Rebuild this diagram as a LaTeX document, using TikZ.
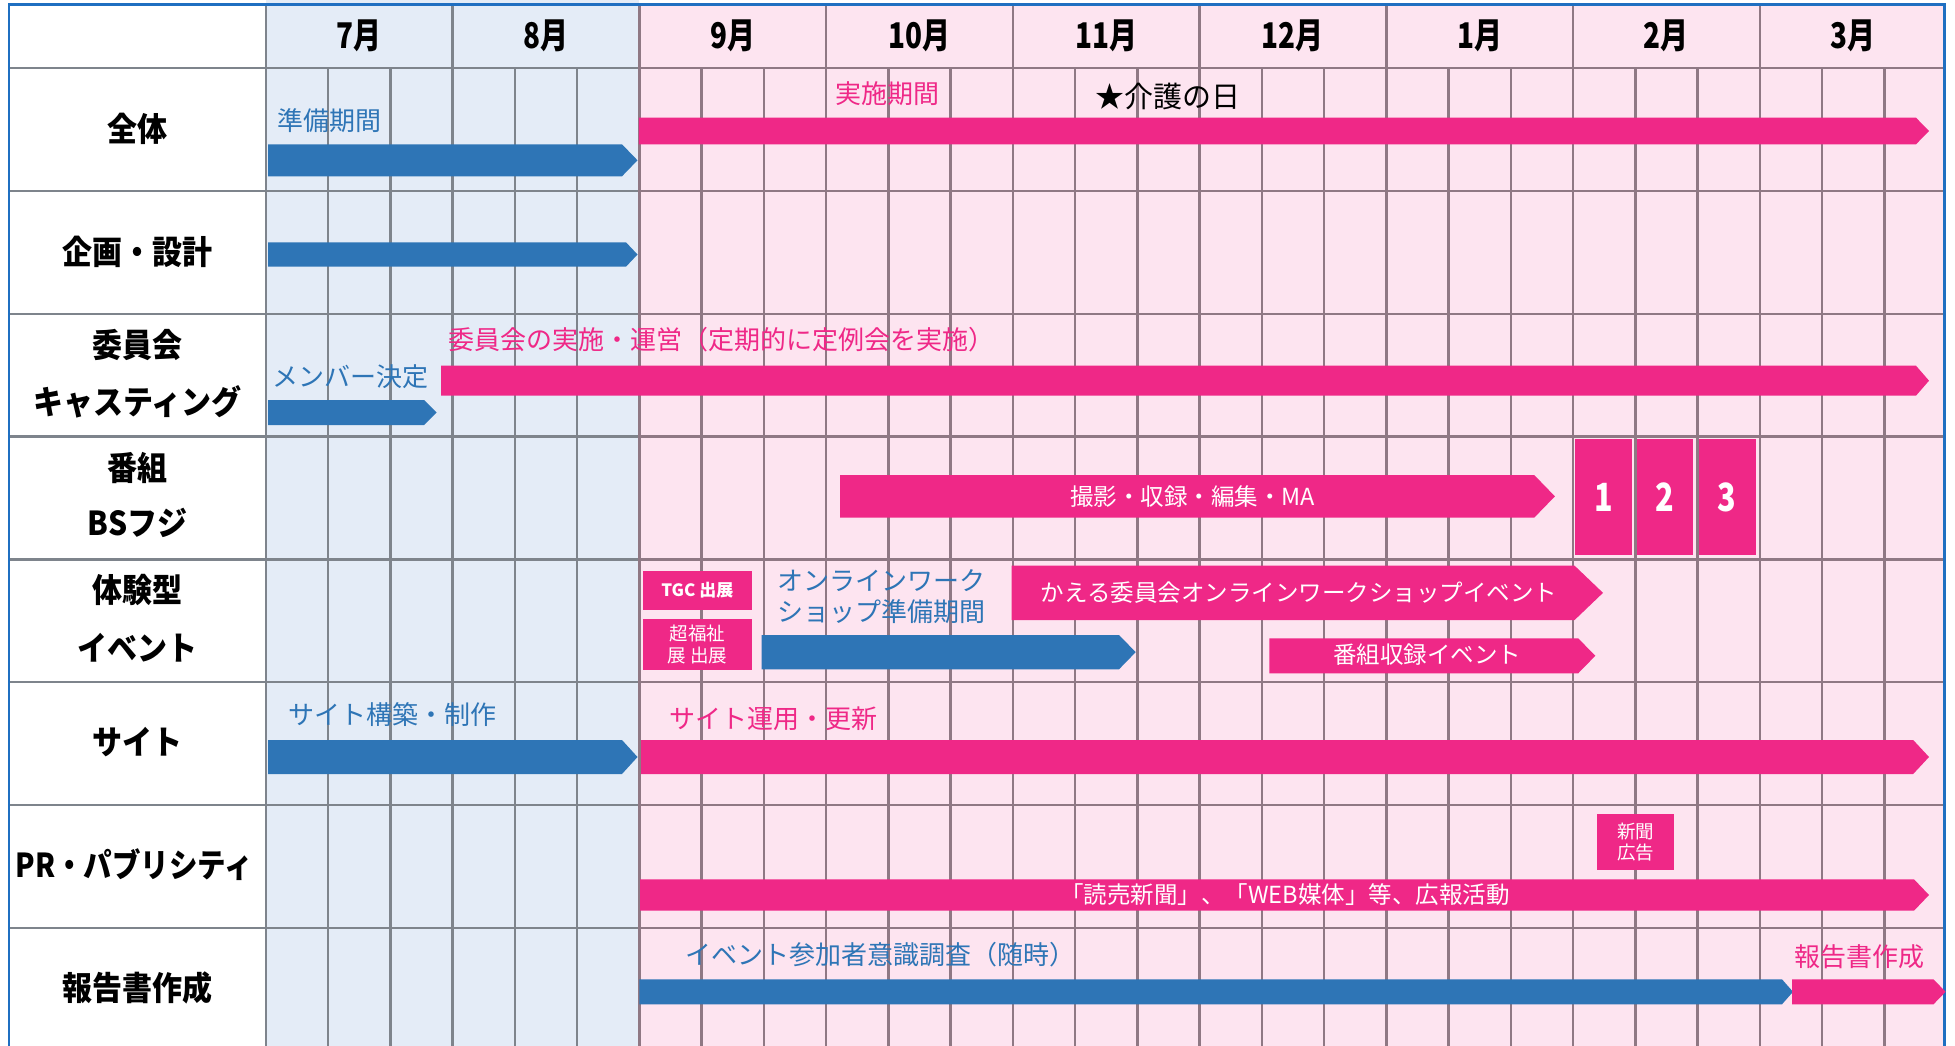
\documentclass[tikz,border=0pt]{standalone}
\usepackage{fontspec}
\setmainfont{Noto Sans CJK JP}
\definecolor{bbar}{HTML}{2E75B6}
\definecolor{pbar}{HTML}{EF2887}
\definecolor{bbg}{HTML}{E4ECF7}
\definecolor{pbg}{HTML}{FDE4F0}
\definecolor{gridb}{HTML}{7E848C}
\definecolor{gridp}{HTML}{8F7884}
\definecolor{framec}{HTML}{1F6FC1}
\newcommand{\gbar}[6]{\fill[#1] (#2,#5) -- (#3,#5) -- (#4,{(#5+#6)/2}) -- (#3,#6) -- (#2,#6) -- cycle;}
\newcommand{\tallm}[1]{\scalebox{0.93}[1.18]{#1}}
\newcommand{\tallr}[1]{\scalebox{1.0}[1.1]{#1}}
\newcommand{\talln}[1]{\scalebox{0.85}[1.08]{#1}}
\begin{document}
\begin{tikzpicture}[x=1pt,y=-1pt,
  txt/.style={inner sep=0pt, text depth=0pt},
  rowlbl/.style={txt, font=\fontsize{30}{36}\selectfont\bfseries, text height=25pt},
  mon/.style={txt, font=\fontsize{30}{36}\selectfont\bfseries, text height=26.9pt},
  btxt/.style={txt, anchor=west, text=bbar, font=\fontsize{26}{30}\selectfont, text height=19.8pt},
  ptxt/.style={btxt, text=pbar},
  wtxt/.style={txt, text=white, font=\fontsize{23.5}{28}\selectfont, text height=17.9pt},
  pbox/.style={fill=pbar, text=white, inner sep=0pt, align=center},
  numbox/.style={pbox, minimum height=116pt, font=\fontsize{36}{40}\selectfont\bfseries},
  gline/.style={line width=2.4pt}
]
\useasboundingbox (0,0) rectangle (1955,1046);
\fill[white] (0,0) rectangle (1955,1046);
\fill[bbg] (265.8,0) rectangle (639.3,1046);
\fill[pbg] (639.3,5) rectangle (1944.5,1046);

% horizontal grid lines
\foreach \y in {68,190.85,313.7,436.55,559.4,682.25,805.1,927.95} {
  \draw[gridb,gline] (9,\y) -- (639.3,\y);
  \draw[gridp,gline] (639.3,\y) -- (1944.5,\y);
}
% vertical grid lines
\foreach \k in {0,...,26} {
  \pgfmathsetmacro\xx{265.8+62.25*\k}
  \pgfmathtruncatemacro\mm{mod(\k,3)}
  \ifnum\k<6 \def\gc{gridb}\else\def\gc{gridp}\fi
  \ifnum\mm=0 \def\yt{5}\else\def\yt{68}\fi
  \draw[\gc,gline] (\xx,\yt) -- (\xx,1046);
}
% frame
\draw[framec,line width=2.6pt] (9,1046) -- (9,4.5) -- (1944.5,4.5) -- (1944.5,1046);

% month headers
\node[mon] (m7) at (359.2,35) {\tallm{7月}};
\node[mon] (m8) at (545.9,35) {\tallm{8月}};
\node[mon] (m9) at (732.7,35) {\tallm{9月}};
\node[mon] (m10) at (919.4,35) {\tallm{10月}};
\node[mon] (m11) at (1106.2,35) {\tallm{11月}};
\node[mon] (m12) at (1292.9,35) {\tallm{12月}};
\node[mon] (m1) at (1479.7,35) {\tallm{1月}};
\node[mon] (m2) at (1666.4,35) {\tallm{2月}};
\node[mon] (m3) at (1853.2,35) {\tallm{3月}};

% row labels
\node[rowlbl] (r1) at (137.5,129.4) {\tallr{全体}};
\node[rowlbl] (r2) at (137.5,252) {\tallr{企画・設計}};
\node[rowlbl] (r3a) at (137.5,345) {\tallr{委員会}};
\node[rowlbl] (r3b) at (137.5,401.7) {\tallr{キャスティング}};
\node[rowlbl] (r4a) at (137.5,468) {\tallr{番組}};
\node[rowlbl] (r4b) at (137.5,523) {\tallr{BSフジ}};
\node[rowlbl] (r5a) at (137.5,590) {\tallr{体験型}};
\node[rowlbl] (r5b) at (137.5,648) {\tallr{イベント}};
\node[rowlbl] (r6) at (137.5,742) {\tallr{サイト}};
\node[rowlbl] (r7) at (134.5,865) {\scalebox{0.95}[1.1]{PR・パブリシティ}};
\node[rowlbl] (r8) at (137.5,988) {\tallr{報告書作成}};

% bars
\gbar{bbar}{268}{622}{637.5}{144.3}{176.3}
\gbar{pbar}{638.8}{1916}{1929}{117.7}{144.3}
\gbar{bbar}{268}{626}{637.5}{242.3}{266.7}
\gbar{bbar}{268}{424}{436.6}{400}{425}
\gbar{pbar}{441}{1916}{1929}{365.7}{395.7}
\gbar{pbar}{840.2}{1534.2}{1554.9}{475}{517.7}
\gbar{bbar}{761.6}{1119}{1135.7}{635}{669.3}
\gbar{pbar}{1011.6}{1574.6}{1603}{565.7}{620}
\gbar{pbar}{1269.3}{1578.2}{1595.3}{638.3}{673.3}
\gbar{bbar}{268}{622}{637.5}{740}{774}
\gbar{pbar}{641}{1913.2}{1929}{740}{774}
\gbar{pbar}{640}{1914}{1929}{879.3}{910.7}
\gbar{bbar}{639.3}{1782}{1793}{979.3}{1004.3}
\gbar{pbar}{1792}{1933.5}{1945.6}{979.3}{1004.3}

% boxes
\node[numbox, minimum width=57.1pt] (n1) at (1603.6,497) {\talln{1}};
\node[numbox, minimum width=56.2pt] (n2) at (1664.8,497) {\talln{2}};
\node[numbox, minimum width=57.1pt] (n3) at (1727.2,497) {\talln{3}};
\node[pbox, minimum width=109pt, minimum height=38.7pt, font=\fontsize{17}{20}\selectfont\bfseries] (tgc) at (697.4,590.3) {TGC 出展};
\node[pbox, minimum width=109pt, minimum height=50.7pt, font=\fontsize{18.5}{21.5}\selectfont] (chf) at (697.4,644.4) {超福祉\\展 出展};
\node[pbox, minimum width=76.9pt, minimum height=56pt, font=\fontsize{18.5}{21}\selectfont] (shb) at (1635.5,842) {新聞\\広告};

% labels
\node[btxt] (t1) at (277.7,120.5) {準備期間};
\node[ptxt] (t2) at (835.7,93.5) {実施期間};
\node[txt, anchor=west, font=\fontsize{29}{32}\selectfont, text height=22pt] (t3) at (1095.5,96.5) {★介護の日};
\node[btxt] (t4) at (272,377) {メンバー決定};
\node[ptxt] (t5) at (448.7,339.5) {委員会の実施・運営（定期的に定例会を実施）};
\node[wtxt] (t6) at (1192.7,496.7) {撮影・収録・編集・MA};
\node[btxt] (t7a) at (777.7,581) {オンラインワーク};
\node[btxt] (t7b) at (777.7,611.5) {ショップ準備期間};
\node[wtxt] (t8) at (1299,592.7) {かえる委員会オンラインワークショップイベント};
\node[wtxt] (t9) at (1427,655) {番組収録イベント};
\node[btxt] (t10) at (288,715) {サイト構築・制作};
\node[ptxt] (t11) at (669,719) {サイト運用・更新};
\node[wtxt] (t12) at (1285,895) {「読売新聞」、「WEB媒体」等、広報活動};
\node[btxt] (t13) at (685.7,955) {イベント参加者意識調査（随時）};
\node[ptxt] (t14) at (1794,956.7) {報告書作成};
\end{tikzpicture}
\end{document}
